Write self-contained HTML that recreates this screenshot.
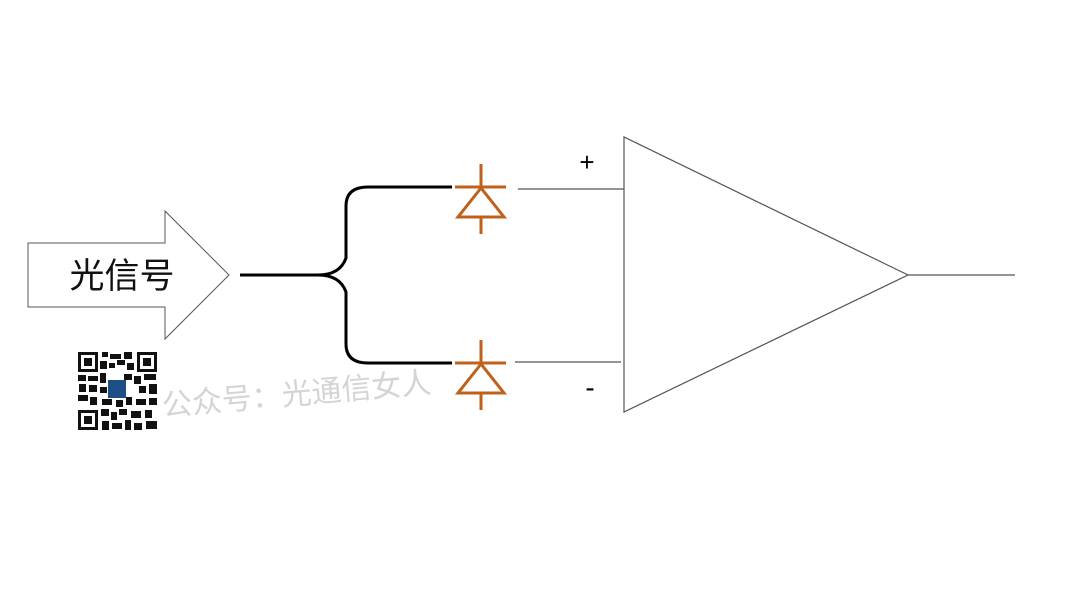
<!DOCTYPE html>
<html><head><meta charset="utf-8"><style>
html,body{margin:0;padding:0;background:#fff;}
body{width:1080px;height:608px;overflow:hidden;}
</style></head><body>
<svg width="1080" height="608" viewBox="0 0 1080 608" xmlns="http://www.w3.org/2000/svg">
<rect width="1080" height="608" fill="#fff"/>
<polygon points="28,243 165,243 165,211 229,275 165,339 165,307 28,307" fill="#fff" stroke="#555" stroke-width="1"/>
<text x="122" y="288" font-family="Liberation Sans, Noto Sans CJK SC, sans-serif" font-size="35" text-anchor="middle" fill="#111">光信号</text>
<path d="M240,275 H318 Q340,275 346,258 V206 Q346,187 368,187 H452" fill="none" stroke="#000" stroke-width="3"/>
<path d="M318,275 Q340,275 346,292 V344 Q346,363 368,363 H452" fill="none" stroke="#000" stroke-width="3"/>
<g stroke="#c0611b" stroke-width="3" fill="none">
<line x1="455" y1="187" x2="506" y2="187"/>
<line x1="481" y1="164" x2="481" y2="187"/>
<polygon points="481,188 458,217 504,217"/>
<line x1="481" y1="217" x2="481" y2="234"/>
<line x1="455" y1="363" x2="506" y2="363"/>
<line x1="481" y1="340" x2="481" y2="363"/>
<polygon points="481,364 458,393 504,393"/>
<line x1="481" y1="393" x2="481" y2="410"/>
</g>
<g stroke="#555" stroke-width="1.2" fill="none">
<line x1="518" y1="189" x2="624" y2="189"/>
<line x1="515" y1="362" x2="621" y2="362"/>
<polygon points="624,137 624,412 908,275" fill="#fff"/>
<line x1="908" y1="275" x2="1015" y2="275"/>
</g>
<text x="587" y="171" font-family="Liberation Sans, sans-serif" font-size="26" text-anchor="middle" fill="#000">+</text>
<text x="590" y="397" font-family="Liberation Sans, sans-serif" font-size="28" text-anchor="middle" fill="#000">-</text>
<g fill="#111">
<rect x="78" y="352" width="20" height="20"/><rect x="81" y="355" width="14" height="14" fill="#fff"/><rect x="84" y="358" width="8" height="8"/>
<rect x="137" y="352" width="20" height="20"/><rect x="140" y="355" width="14" height="14" fill="#fff"/><rect x="143" y="358" width="8" height="8"/>
<rect x="78" y="410" width="20" height="20"/><rect x="81" y="413" width="14" height="14" fill="#fff"/><rect x="84" y="416" width="8" height="8"/>
<rect x="102" y="352" width="6" height="5"/><rect x="110" y="354" width="11" height="5"/><rect x="124" y="352" width="8" height="7"/>
<rect x="100" y="361" width="7" height="8"/><rect x="109" y="363" width="6" height="5"/><rect x="117" y="360" width="8" height="5"/><rect x="127" y="363" width="7" height="7"/>
<rect x="78" y="375" width="8" height="6"/><rect x="88" y="376" width="10" height="5"/><rect x="100" y="373" width="6" height="10"/><rect x="124" y="374" width="8" height="6"/><rect x="134" y="376" width="7" height="8"/><rect x="144" y="374" width="12" height="6"/>
<rect x="79" y="384" width="7" height="8"/><rect x="89" y="385" width="8" height="7"/><rect x="100" y="387" width="7" height="6"/><rect x="139" y="386" width="7" height="7"/><rect x="149" y="384" width="8" height="10"/>
<rect x="78" y="395" width="10" height="6"/><rect x="90" y="397" width="7" height="8"/><rect x="102" y="399" width="10" height="6"/><rect x="116" y="400" width="7" height="7"/><rect x="126" y="397" width="6" height="8"/><rect x="136" y="399" width="10" height="6"/><rect x="149" y="398" width="8" height="7"/>
<rect x="101" y="409" width="8" height="7"/><rect x="111" y="412" width="6" height="8"/><rect x="119" y="409" width="8" height="6"/><rect x="131" y="411" width="10" height="7"/><rect x="145" y="410" width="7" height="8"/>
<rect x="102" y="421" width="7" height="9"/><rect x="112" y="423" width="10" height="6"/><rect x="125" y="420" width="6" height="10"/><rect x="134" y="423" width="8" height="7"/><rect x="146" y="421" width="11" height="8"/>
<rect x="108" y="380" width="18" height="18" fill="#1d4f86"/>
</g>
<text x="163" y="416" transform="rotate(-5 163 416)" font-family="Liberation Sans, Noto Sans CJK SC, sans-serif" font-size="30" fill="#d4d4d4">公众号：光通信女人</text>
</svg>
</body></html>
